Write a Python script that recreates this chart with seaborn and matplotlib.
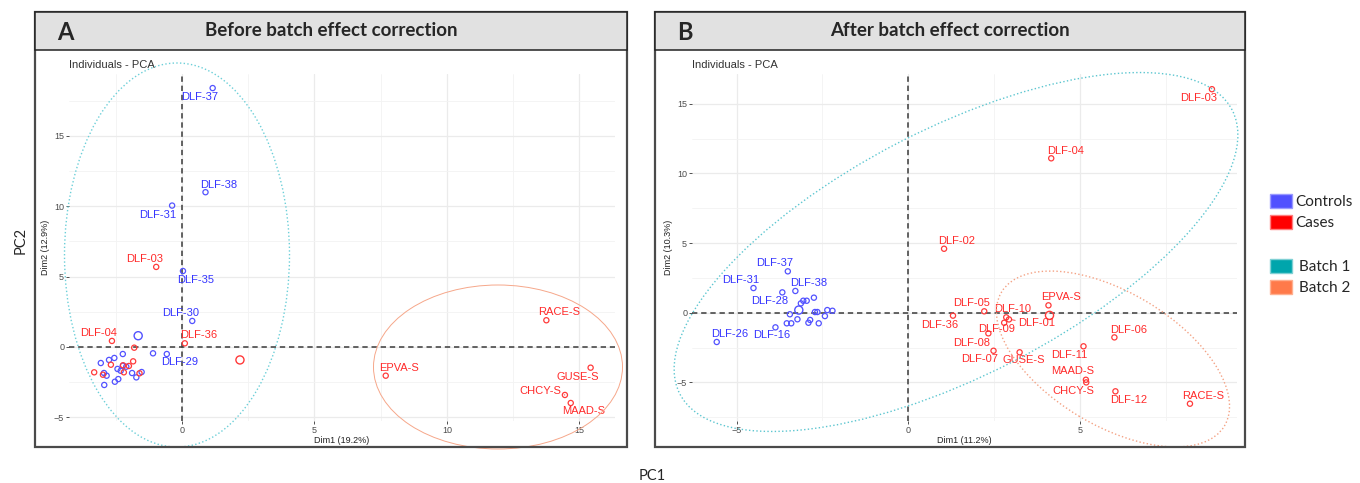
import matplotlib
matplotlib.use("Agg")
import matplotlib.pyplot as plt
from matplotlib.patches import Rectangle, Ellipse, Patch
import pandas as pd
import seaborn as sns

# ---------------- data ----------------
# A: before batch effect correction
before_names = ["DLF-37", "DLF-38", "DLF-31", "DLF-35", "DLF-30", "DLF-29",
                "", "", "", "", "", "", "", "", "", "", "", "", "", "", "", "", "",
                "DLF-03", "DLF-04", "DLF-36",
                "", "", "", "", "", "", "", "", "",
                "RACE-S", "EPVA-S", "GUSE-S", "CHCY-S", "MAAD-S"]
before_dim1 = [1.16, 0.89, -0.37, 0.04, 0.39, -0.57,
               -3.06, -2.75, -2.55, -2.23, -2.94, -2.84, -2.93, -2.53, -2.40,
               -2.43, -2.31, -2.23, -2.10, -1.88, -1.72, -1.52, -1.09,
               -0.97, -2.64, 0.11,
               -3.31, -2.98, -2.68, -2.22, -2.00, -1.84, -1.80, -1.60, -2.19,
               13.75, 7.69, 15.42, 14.45, 14.67]
before_dim2 = [18.4, 11.0, 10.05, 5.4, 1.85, -0.50,
               -1.14, -0.92, -0.78, -0.50, -1.85, -2.04, -2.70, -2.47, -2.28,
               -1.56, -1.69, -1.33, -1.40, -1.85, -2.16, -1.78, -0.45,
               5.69, 0.43, 0.26,
               -1.80, -1.97, -1.26, -1.30, -1.35, -1.02, -0.05, -1.87, -1.80,
               1.90, -2.04, -1.47, -3.41, -3.98]
before_status = ["Controls"] * 23 + ["Cases"] * 17
before_centroid_dim1 = [-1.65, 2.19]
before_centroid_dim2 = [0.80, -0.92]

# B: after batch effect correction
after_names = ["DLF-37", "DLF-31", "DLF-38", "DLF-28", "DLF-26", "DLF-16",
               "", "", "", "", "", "", "", "", "", "", "", "", "", "", "", "",
               "DLF-02", "DLF-05", "DLF-36", "DLF-10", "DLF-01", "DLF-09",
               "DLF-08", "DLF-07", "GUSE-S", "EPVA-S", "DLF-11", "MAAD-S",
               "CHCY-S", "DLF-06", "DLF-12", "RACE-S", "DLF-03", "DLF-04"]
after_dim1 = [-3.51, -4.51, -3.29, -3.67, -5.58, -3.87,
              -2.75, -3.13, -3.06, -2.96, -3.45, -3.54, -3.41, -3.23, -2.91,
              -2.86, -2.72, -2.65, -2.61, -2.43, -2.36, -2.21,
              1.04, 2.21, 1.30, 2.85, 2.93, 2.79, 2.33, 2.48, 3.24, 4.08,
              5.10, 5.17, 5.18, 6.00, 6.03, 8.20, 8.84, 4.16]
after_dim2 = [2.97, 1.77, 1.56, 1.46, -2.10, -1.05,
              1.08, 0.67, 0.86, 0.86, -0.11, -0.76, -0.76, -0.47, -0.72,
              -0.52, 0.05, 0.05, -0.76, -0.24, 0.19, 0.14,
              4.59, 0.10, -0.21, -0.33, -0.48, -0.72, -1.48, -2.73, -2.84, 0.53,
              -2.41, -4.81, -5.00, -1.77, -5.64, -6.53, 16.04, 11.08]
after_status = ["Controls"] * 22 + ["Cases"] * 18
after_centroid_dim1 = [-3.19, 4.11]
after_centroid_dim2 = [0.19, -0.19]

centroid_status = ["Controls", "Cases"]

# ---------------- layout / style ----------------
W, H = 1360, 483
point_pal = {"Controls": "#5252FF", "Cases": "#FF3A3A"}
text_pal = {"Controls": "#3535FF", "Cases": "#FF2A2A"}

# label offsets (pixels, x right / y up) as ggrepel placed them
before_offsets = {
    "DLF-37": (-13, -9), "DLF-38": (13, 7), "DLF-31": (-14, -9),
    "DLF-03": (-12, 8), "DLF-35": (13, -9), "DLF-30": (-12, 8),
    "DLF-36": (14, 8), "DLF-04": (-13, 8), "DLF-29": (13, -8),
    "RACE-S": (13, 8), "EPVA-S": (13, 8), "GUSE-S": (-13, -9),
    "CHCY-S": (-25, 4), "MAAD-S": (13, -8),
}
after_offsets = {
    "DLF-37": (-13, 8), "DLF-31": (-13, 8), "DLF-38": (13, 8),
    "DLF-28": (-13, -9), "DLF-26": (13, 8), "DLF-16": (-4, -8),
    "DLF-02": (13, 8), "DLF-05": (-13, 8), "DLF-36": (-13, -9),
    "DLF-10": (6, 8), "DLF-01": (28, -4), "DLF-09": (-8, -6),
    "DLF-08": (-17, -10), "DLF-07": (-14, -8), "GUSE-S": (4, -8),
    "EPVA-S": (13, 8), "DLF-11": (-14, -9), "MAAD-S": (-13, 9),
    "CHCY-S": (-13, -9), "DLF-06": (14, 7), "DLF-12": (13, -9),
    "RACE-S": (13, 8), "DLF-03": (-13, -9), "DLF-04": (14, 7),
}

sns.set_theme(style="white")
plt.rcParams["font.family"] = ["Liberation Sans", "DejaVu Sans"]


def fig_xy(x, y):
    return x / W, 1 - y / H


def open_circles(ax):
    pts = ax.collections[-1]
    pts.set_edgecolors(pts.get_facecolors())
    pts.set_facecolors("none")


def draw_panel(ax, df, cdf, offsets, xlabel, ylabel, xlim, ylim, xt, yt):
    ax.set_xlim(*xlim)
    ax.set_ylim(*ylim)
    ax.set_xticks(xt)
    ax.set_yticks(yt)
    ax.set_xticks([t + 2.5 for t in [xt[0] - 5] + list(xt)
                   if xlim[0] < t + 2.5 < xlim[1]], minor=True)
    ax.set_yticks([t + 2.5 for t in [yt[0] - 5] + list(yt)
                   if ylim[0] < t + 2.5 < ylim[1]], minor=True)
    ax.grid(which="major", color="#EBEBEB", lw=0.9, zorder=0)
    ax.grid(which="minor", color="#F3F3F3", lw=0.6, zorder=0)
    ax.set_axisbelow(True)
    for s in ax.spines.values():
        s.set_visible(False)
    ax.tick_params(axis="both", which="major", length=2, width=0.6,
                   color="#333333", labelsize=6.5, labelcolor="#4D4D4D",
                   left=True, bottom=True, pad=1.5)
    ax.tick_params(which="minor", length=0)
    ax.axhline(0, color="#3A3A3A", lw=1.1, ls=(0, (3.5, 2.5)), zorder=1)
    ax.axvline(0, color="#3A3A3A", lw=1.1, ls=(0, (3.5, 2.5)), zorder=1)

    sns.scatterplot(data=df, x="Dim1", y="Dim2", hue="status",
                    palette=point_pal, s=14, linewidth=0.9, legend=False,
                    ax=ax, zorder=3)
    open_circles(ax)
    sns.scatterplot(data=cdf, x="Dim1", y="Dim2", hue="status",
                    palette=point_pal, s=34, linewidth=1.0, legend=False,
                    ax=ax, zorder=3)
    open_circles(ax)

    for _, r in df[df["name"] != ""].iterrows():
        dx, dy = offsets[r["name"]]
        arrow = None
        if abs(dx) > 20:
            arrow = dict(arrowstyle="-", color=text_pal[r["status"]],
                         lw=0.6, shrinkA=8, shrinkB=2)
        ax.annotate(r["name"], (r["Dim1"], r["Dim2"]), xytext=(dx, dy),
                    textcoords="offset pixels", ha="center", va="center",
                    fontsize=8, color=text_pal[r["status"]],
                    arrowprops=arrow, zorder=4)

    ax.set_title("Individuals - PCA", loc="left", fontsize=8,
                 color="#333333", pad=4)
    ax.set_xlabel(xlabel, fontsize=6.5, color="#222222", labelpad=1)
    ax.set_ylabel(ylabel, fontsize=6.5, color="#222222", labelpad=3)


fig = plt.figure(figsize=(W / 100, H / 100), dpi=100)
fig.patch.set_facecolor("white")

before = pd.DataFrame({"name": before_names, "Dim1": before_dim1,
                       "Dim2": before_dim2, "status": before_status})
after = pd.DataFrame({"name": after_names, "Dim1": after_dim1,
                      "Dim2": after_dim2, "status": after_status})
before_c = pd.DataFrame({"Dim1": before_centroid_dim1,
                         "Dim2": before_centroid_dim2, "status": centroid_status})
after_c = pd.DataFrame({"Dim1": after_centroid_dim1,
                        "Dim2": after_centroid_dim2, "status": centroid_status})

axA = fig.add_axes([69 / W, 62 / H, 546 / W, 347 / H])
draw_panel(axA, before, before_c, before_offsets, "Dim1 (19.2%)",
           "Dim2 (12.9%)", (-4.26, 16.34), (-5.26, 19.4),
           [0, 5, 10, 15], [-5, 0, 5, 10, 15])
axB = fig.add_axes([692 / W, 62 / H, 545 / W, 347 / H])
draw_panel(axB, after, after_c, after_offsets, "Dim1 (11.2%)",
           "Dim2 (10.3%)", (-6.30, 9.57), (-7.77, 17.13),
           [-5, 0, 5], [-5, 0, 5, 10, 15])


# panel frames and header bars
def box(x0, y0, x1, y1, **kw):
    fx, fy = fig_xy(x0, y1)
    fig.add_artist(Rectangle((fx, fy), (x1 - x0) / W, (y1 - y0) / H,
                             transform=fig.transFigure, **kw))


for (x0, x1, letter, title) in [(35, 627, "A", "Before batch effect correction"),
                                (655, 1245, "B", "After batch effect correction")]:
    box(x0, 12, x1, 447, fill=False, ec="#4A4A4A", lw=1.6, zorder=5)
    box(x0, 12, x1, 50, fc="#E1E1E1", ec="#222222", lw=1.1, zorder=5)
    fig.text(*fig_xy(x0 + 22, 32), letter, fontsize=17, fontweight="bold",
             family="Lato", ha="left", va="center", zorder=6)
    fig.text(*fig_xy((x0 + x1) / 2, 31), title, fontsize=13.5,
             fontweight="bold", family="Lato", ha="center", va="center",
             zorder=6)

# hand-drawn batch ellipses (pixel centre, width, height, angle)
ellipses = [
    (177, 255, 225, 384, 0, "#6CCFD8", ":", 1.0),
    (498, 367, 249, 164, 0, "#F6A78A", "-", 0.7),
    (956, 252, 621, 247, 27.2, "#5CC6D0", ":", 1.0),
    (1113, 359, 260, 133, -31, "#F4A284", ":", 1.0),
]
for cx, cy, w, h, ang, col, ls, lw in ellipses:
    fig.add_artist(Ellipse((cx / 100, (H - cy) / 100), w / 100, h / 100,
                           angle=ang, transform=fig.dpi_scale_trans,
                           fill=False, ec=col, ls=ls, lw=lw, zorder=4))

fig.text(*fig_xy(652, 476), "PC1", fontsize=10.5, family="Lato",
         ha="center", va="center")
fig.text(*fig_xy(21, 240), "PC2", fontsize=10.5, family="Lato",
         ha="center", va="center", rotation=90)

fig.legend(handles=[Patch(fc="#5050FF", ec="#9A9AFF", label="Controls"),
                    Patch(fc="#FF0000", ec="#FF8080", label="Cases")],
           loc="upper left", bbox_to_anchor=fig_xy(1256, 180),
           frameon=False, handlelength=1.45, handleheight=1.1,
           handletextpad=0.25, labelspacing=0.35,
           prop={"family": "Lato", "size": 11})
fig.legend(handles=[Patch(fc="#00A5AC", ec="#7FD0D4", label="Batch 1"),
                    Patch(fc="#FF7A4A", ec="#FFB090", label="Batch 2")],
           loc="upper left", bbox_to_anchor=fig_xy(1256, 245),
           frameon=False, handlelength=1.45, handleheight=1.1,
           handletextpad=0.45, labelspacing=0.35,
           prop={"family": "Lato", "size": 11})

fig.savefig("out.png", dpi=100, facecolor="white")
